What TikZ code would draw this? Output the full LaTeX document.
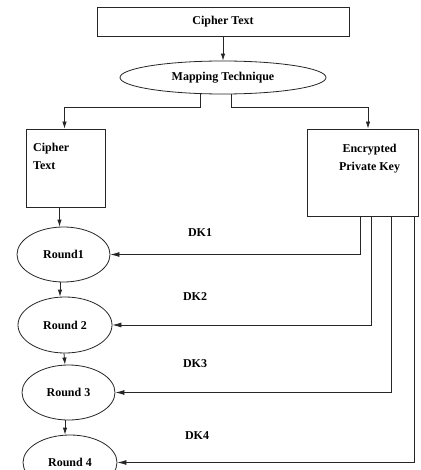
\documentclass[tikz,border=0pt]{standalone}
\usepackage{fontspec}
\setmainfont{Liberation Serif}
\usetikzlibrary{arrows.meta,shapes.geometric,positioning}
\begin{document}
\begin{tikzpicture}[x=1pt,y=-1pt,
  every node/.style={font=\fontsize{12}{18}\selectfont\bfseries, inner sep=0pt},
  boxx/.style={draw=black!85, line width=0.8pt, rectangle},
  ell/.style={draw=black!85, line width=0.8pt, ellipse},
  arr/.style={draw=black!85, line width=0.8pt, -{Latex[length=7pt,width=4.5pt]}},
  harr/.style={draw=black!85, line width=0.8pt, -{Latex[length=9pt,width=5pt]}}]
\clip (0,0) rectangle (420,470);
\fill[white] (0,0) rectangle (420,470);
% nodes
\node[boxx, minimum width=252pt, minimum height=29pt] (top) at (223,21.5) {Cipher Text};
\node[ell, minimum width=206pt, minimum height=33pt] (map) at (223,77.5) {Mapping Technique};
\node[boxx, minimum width=79pt, minimum height=78pt] (lbox) at (65.5,168) {};
\node[anchor=north west, align=left] (lboxtxt) at (33,143) {Cipher\\Text};
\node[boxx, minimum width=111pt, minimum height=87pt] (rbox) at (362.5,172.5) {};
\node[align=center] (rboxtxt) at (369.5,159) {Encrypted\\Private Key};
\node[ell, minimum width=93pt, minimum height=55pt] (r1) at (63.5,254.5) {Round1};
\node[ell, minimum width=94pt, minimum height=56pt] (r2) at (65,325) {Round 2};
\node[ell, minimum width=93pt, minimum height=55pt] (r3) at (68.5,392.5) {Round 3};
\node[ell, minimum width=94pt, minimum height=55pt] (r4) at (70,462.5) {Round 4};
\node (dk1) at (200,233) {DK1};
\node (dk2) at (195,297) {DK2};
\node (dk3) at (195,364) {DK3};
\node (dk4) at (197,436) {DK4};
% connectors
\draw[arr] (top.south) -- (map.north);
\draw[arr] ([xshift=-23pt]map.south) -- ++(0,13) -| ([xshift=-1pt]lbox.north);
\draw[arr] ([xshift=8pt]map.south) -- ++(0,13) -| ([xshift=5.5pt]rbox.north);
\draw[arr] ([xshift=-6pt]lbox.south) -- ([xshift=-4pt]r1.north);
\draw[arr] ([xshift=-3.5pt]r1.south) -- ([xshift=-5pt]r2.north);
\draw[arr] ([xshift=-1pt]r2.south) -- ([xshift=-3.5pt]r3.north);
\draw[arr] ([xshift=-3.5pt]r3.south) -- ([xshift=-5pt]r4.north);
\draw[harr] ([xshift=-2.5pt]rbox.south) |- (r1.east);
\draw[harr] ([xshift=8.5pt]rbox.south) |- (r2.east);
\draw[harr] ([xshift=28.5pt]rbox.south) |- (r3.east);
\draw[harr] ([xshift=51.5pt]rbox.south) |- (r4.east);
\end{tikzpicture}
\end{document}
